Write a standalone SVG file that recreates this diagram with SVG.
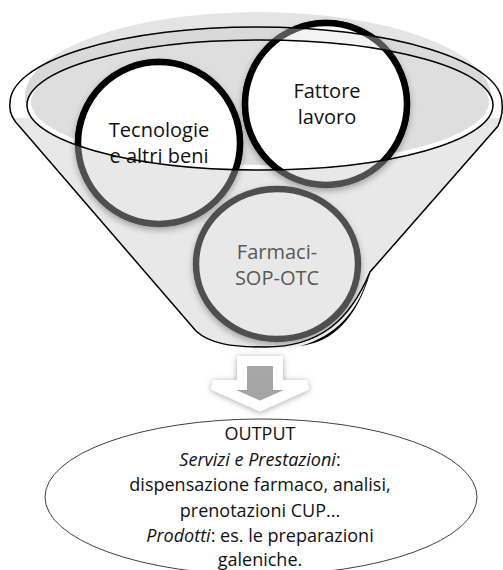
<svg xmlns="http://www.w3.org/2000/svg" width="503" height="570" viewBox="0 0 503 570">
  <style>
    .txt { font-family: 'Open Sans', 'Liberation Sans', sans-serif; text-anchor: middle; }
    .node-text { font-size: 20px; fill: #111; }
    .muted { fill: #595959; }
    .out-text { font-size: 18px; fill: #111; }
    .ring-base { fill: #e8e8e8; stroke: #4f4f4f; stroke-width: 6.5; }
    .ring-lit { fill: #ffffff; stroke: #000; stroke-width: 6.5; }
    .ring-band { fill: #f3f3f3; stroke: #555; stroke-width: 6.5; }
    .rim-line { fill: none; stroke: #000; stroke-width: 1.5; }
  </style>
  <defs>
    <!-- soft shadow under the gray rings -->
    <filter id="ringShadow" x="-20%" y="-20%" width="140%" height="150%">
      <feDropShadow dx="0" dy="3" stdDeviation="3" flood-color="#000" flood-opacity="0.3"/>
    </filter>
    <filter id="arrowShadow" x="-30%" y="-30%" width="160%" height="160%">
      <feDropShadow dx="0" dy="1" stdDeviation="3" flood-color="#000" flood-opacity="0.35"/>
    </filter>
    <linearGradient id="arrowFill" x1="0" y1="0" x2="0" y2="1">
      <stop offset="0" stop-color="#a9a9a9"/>
      <stop offset="1" stop-color="#a2a2a2"/>
    </linearGradient>
    <!-- inside the inner rim ellipse -->
    <clipPath id="insideRim">
      <ellipse cx="260" cy="105" rx="233" ry="65"/>
    </clipPath>
    <!-- above the outer rim of the funnel -->
    <clipPath id="aboveRim">
      <path d="M0,0 H503 V103 H502 A246 76 0 0 0 10 103 H0 Z"/>
    </clipPath>
    <!-- upper band between outer rim and inner ellipse -->
    <clipPath id="upperBand">
      <path d="M10,103 A246 76 0 0 1 502 103 L493,105 A233 65 0 0 0 27 105 Z"/>
    </clipPath>
    <clipPath id="backShape">
      <ellipse cx="258" cy="97" rx="233" ry="85"/>
    </clipPath>
  </defs>

  <!-- funnel body and rim fills -->
  <g id="funnel-fill">
    <ellipse cx="258" cy="97" rx="233" ry="85" fill="#e4e4e4"/>
    <path d="M12,118 L196,331 C210,344 232,347 265,347 C320,347 350,320 370,272 L498,126 L503,120 L503,118 Z" fill="#e8e8e8"/>
    <path d="M10,103 A246 76 0 0 1 502 103 L493,105 A233 65 0 0 0 27 105 Z" fill="#d9d9d9" clip-path="url(#backShape)"/>
    <ellipse cx="260" cy="105" rx="233" ry="65" fill="#ffffff"/>
    <ellipse cx="260" cy="102" rx="229" ry="63" fill="#dedede"/>
  </g>

  <g id="node-tecnologie">
    <circle class="ring-base" cx="159" cy="143" r="81" filter="url(#ringShadow)"/>
    <circle class="ring-lit" cx="159" cy="143" r="81" clip-path="url(#insideRim)"/>
    <text class="txt node-text" x="159" y="137">Tecnologie</text>
    <text class="txt node-text" x="159" y="163">e altri beni</text>
  </g>

  <g id="node-fattore">
    <circle class="ring-base" cx="326" cy="104" r="81" filter="url(#ringShadow)"/>
    <circle class="ring-band" cx="326" cy="104" r="81" clip-path="url(#upperBand)"/>
    <circle class="ring-lit" cx="326" cy="104" r="81" clip-path="url(#insideRim)"/>
    <circle class="ring-lit" cx="326" cy="104" r="81" clip-path="url(#aboveRim)"/>
    <text class="txt node-text" x="327" y="98">Fattore</text>
    <text class="txt node-text" x="327" y="124">lavoro</text>
  </g>

  <g id="node-farmaci">
    <ellipse class="ring-base" cx="277" cy="264" rx="81" ry="75" filter="url(#ringShadow)"/>
    <text class="txt node-text muted" x="277" y="259">Farmaci-</text>
    <text class="txt node-text muted" x="277" y="285">SOP-OTC</text>
  </g>

  <!-- funnel outlines drawn over the rings -->
  <g id="funnel-lines">
    <path d="M366,282 C358,308 338,336 300,346 C334,342 356,318 370,274 Z" fill="#000"/>
    <path class="rim-line" d="M20,127 C12,119 9,110 10,103 A246 76 0 0 1 502 103 C503,111 501,119 498,126 L370,272 C350,320 320,347 265,347 C232,347 210,344 196,331 Z"/>
    <ellipse class="rim-line" cx="260" cy="105" rx="233" ry="65" stroke-width="1.3"/>
  </g>

  <g id="connectors">
    <path id="arrow-down" d="M242,361 H278 V385 H307 L260,406 L213,385 H242 Z" fill="url(#arrowFill)" stroke="#fff" stroke-width="10" stroke-linejoin="miter" filter="url(#arrowShadow)"/>
  </g>

  <g id="node-output">
    <ellipse cx="261" cy="497" rx="216" ry="78" fill="#fff" stroke="#404040" stroke-width="1"/>
    <text class="txt out-text" x="260" y="440">OUTPUT</text>
    <text class="txt out-text" x="260" y="465.5"><tspan font-style="italic">Servizi e Prestazioni</tspan>:</text>
    <text class="txt out-text" x="260" y="491">dispensazione farmaco, analisi,</text>
    <text class="txt out-text" x="260" y="516.5">prenotazioni CUP...</text>
    <text class="txt out-text" x="260" y="542"><tspan font-style="italic">Prodotti</tspan>: es. le preparazioni</text>
    <text class="txt out-text" x="260" y="566">galeniche.</text>
  </g>
</svg>
